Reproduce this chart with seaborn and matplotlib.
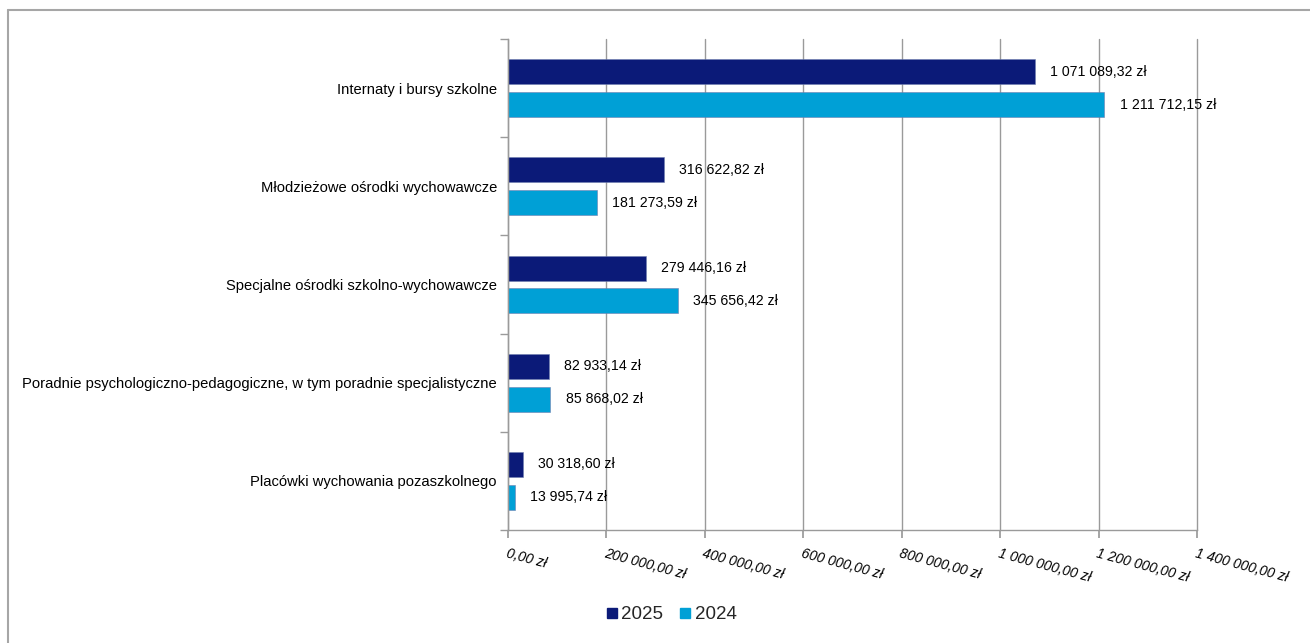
import pandas as pd
import matplotlib.pyplot as plt
import seaborn as sns
from matplotlib.ticker import FuncFormatter, MultipleLocator
from matplotlib.lines import Line2D

# data
categories = ["Internaty i bursy szkolne",
              "Młodzieżowe ośrodki wychowawcze",
              "Specjalne ośrodki szkolno-wychowawcze",
              "Poradnie psychologiczno-pedagogiczne, w tym poradnie specjalistyczne",
              "Placówki wychowania pozaszkolnego"]
values_2025 = [1071089.32, 316622.82, 279446.16, 82933.14, 30318.60]
values_2024 = [1211712.15, 181273.59, 345656.42, 85868.02, 13995.74]
years = ["2025", "2024"]
colors = ["#0b1a78", "#00a0d6"]


def pln(v, pos=None):
    s = f"{v:,.2f}".replace(",", " ").replace(".", ",")
    return s + " zł"


df = pd.DataFrame({
    "kategoria": categories * 2,
    "kwota": values_2025 + values_2024,
    "rok": [years[0]] * len(categories) + [years[1]] * len(categories),
})

sns.set_theme(style="white")
plt.rcParams['font.family'] = ['Liberation Sans', 'DejaVu Sans']

fig = plt.figure(figsize=(13.1, 6.43), dpi=100)
ax = fig.add_axes([508 / 1310, 1 - 530 / 643, (1197 - 508) / 1310, (530 - 39) / 643])

sns.barplot(data=df, x="kwota", y="kategoria", hue="rok", hue_order=years,
            palette=colors, saturation=1, orient="h", width=0.67, gap=0.24, ax=ax,
            edgecolor="#6f7fb0", linewidth=0.4, legend=False)

for cont in ax.containers:
    ax.bar_label(cont, labels=[pln(b.get_width()) for b in cont], padding=11,
                 fontsize=10.2, color="black")

ax.set_xlim(0, 1400000)
ax.set_ylim(4.5, -0.5)
ax.xaxis.set_major_locator(MultipleLocator(200000))
ax.xaxis.set_major_formatter(FuncFormatter(pln))
ax.grid(axis="x", color="#9a9a9a", linewidth=1)
ax.set_axisbelow(True)
for gl in ax.get_xgridlines():
    gl.set_clip_on(False)
ax.set_xlabel("")
ax.set_ylabel("")

for s in ["top", "right"]:
    ax.spines[s].set_visible(False)
for s in ["left", "bottom"]:
    ax.spines[s].set_color("#9a9a9a")
    ax.spines[s].set_linewidth(1)

ax.tick_params(axis="x", bottom=True, length=6, color="#9a9a9a", labelsize=10,
               labelcolor="black", pad=6)
for lab in ax.get_xticklabels():
    lab.set_rotation(-15)
    lab.set_ha("left")
    lab.set_va("top")
    lab.set_rotation_mode("anchor")
    lab.set_fontstyle("italic")

ax.set_yticks(range(len(categories)))
ax.set_yticks([i - 0.5 for i in range(len(categories) + 1)], minor=True)
ax.tick_params(axis="y", which="major", left=False, length=0, labelsize=10.6,
               labelcolor="black", pad=8)
ax.tick_params(axis="y", which="minor", left=True, length=6, color="#9a9a9a")

handles = [Line2D([], [], marker="s", linestyle="", color=c, markersize=7) for c in colors]
fig.legend(handles, years, loc="center", bbox_to_anchor=(0.511, 0.044), ncol=2,
           frameon=False, fontsize=13.5, handletextpad=0.0, columnspacing=0.7,
           handlelength=1.0)

# outer chart border (only top and left visible in the crop)
fig.add_artist(Line2D([7.5 / 1310, 1], [1 - 10 / 643] * 2, color="#a6a6a6", lw=1.5))
fig.add_artist(Line2D([7.5 / 1310] * 2, [0, 1 - 10 / 643], color="#a6a6a6", lw=1.5))

fig.savefig("out.png", dpi=100)
